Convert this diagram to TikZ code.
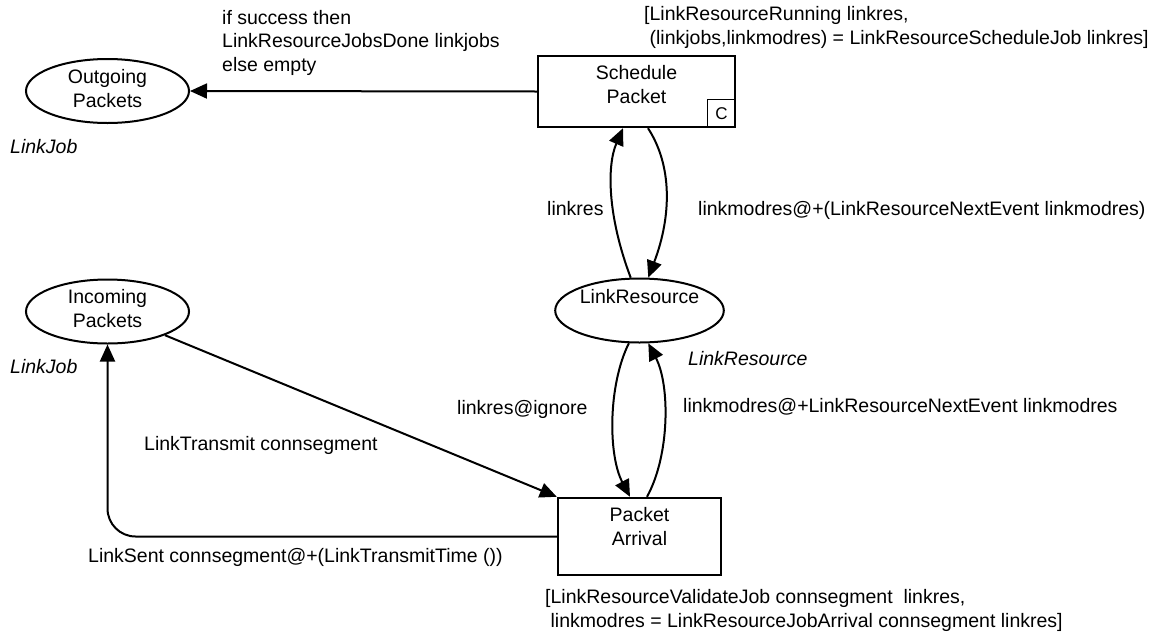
\documentclass[tikz,border=0pt]{standalone}
\usepackage{fontspec}
\setmainfont{Liberation Sans}
\usetikzlibrary{arrows.meta,shapes.geometric}

\tikzset{
  every node/.style={font=\fontsize{19.5}{23.3}\selectfont, inner sep=0pt},
  place/.style={ellipse, draw, line width=2pt, minimum width=163pt, minimum height=64pt,
                align=center},
  trans/.style={rectangle, draw, line width=2.4pt, align=center},
  two lines/.style={text height=37.5pt, text depth=#1},
  one line/.style={text height=14.2pt, text depth=#1},
  arc/.style={line width=2pt, -{Triangle[length=17pt,width=15pt]}},
  lbl/.style={anchor=base west, align=left},
  typ/.style={lbl, font=\fontsize{19.5}{23.3}\selectfont\itshape},
}

\begin{document}
\begin{tikzpicture}[x=1pt, y=-1pt]
\useasboundingbox (0,0) rectangle (1167,635);

% places
\node[place, two lines=5.5pt] (out) at (107.5,91) {Outgoing\\Packets};
\node[place, two lines=6.5pt] (inc) at (107.5,311.5) {Incoming\\Packets};
\node[place, one line=29.2pt] (lr)  at (639.5,310.5) {LinkResource};

% transitions
\node[trans, minimum width=197pt, minimum height=71pt, two lines=14.5pt] (sp) at (636.5,91.5) {Schedule\\Packet};
\node[draw, line width=1.6pt, minimum size=28pt, anchor=south east, font=\fontsize{17}{20}\selectfont]
  (cb) at (sp.south east) {C};
\node[trans, minimum width=163pt, minimum height=77pt, two lines=20.5pt] (pa) at (639.5,536.5) {Packet\\Arrival};

% colour sets
\node[typ] (t1) at (10,153) {LinkJob};
\node[typ] (t2) at (10,373) {LinkJob};
\node[typ] (t3) at (688,365) {LinkResource};

% guards (placed by the baseline of their last line)
\node[lbl] (g1) at (644,44) {[LinkResourceRunning linkres,\\\hspace*{5.4pt}(linkjobs,linkmodres) = LinkResourceScheduleJob linkres]};
\node[lbl] (g2) at (545,627) {[LinkResourceValidateJob connsegment\ \ linkres,\\\hspace*{5.4pt}linkmodres = LinkResourceJobArrival connsegment linkres]};

% arcs
\draw[arc] (sp.west) -- (out.east);
\draw[arc] (lr.105) .. controls (607,215) and (607,165) .. ([xshift=-13.5pt]sp.south);
\draw[arc] ([xshift=11.5pt]sp.south) .. controls (672,165) and (672,215) .. (lr.75);
\draw[arc] (lr.-108) .. controls (608,385) and (608,455) .. ([xshift=-9.5pt]pa.north);
\draw[arc] ([xshift=7.5pt]pa.north) .. controls (670,455) and (670,385) .. (lr.-75);
\draw[arc] (inc) -- (pa.north west);
\draw[arc, rounded corners=28pt] (pa.west) -| (inc.south);

% arc inscriptions
\node[lbl] (a1) at (222,71) {if success then\\LinkResourceJobsDone linkjobs\\else empty};
\node[lbl] (a2) at (547,215) {linkres};
\node[lbl] (a3) at (698,215) {linkmodres@+(LinkResourceNextEvent linkmodres)};
\node[lbl] (a4) at (457,414) {linkres@ignore};
\node[lbl] (a5) at (683,412) {linkmodres@+LinkResourceNextEvent linkmodres};
\node[lbl] (a6) at (144,450) {LinkTransmit connsegment};
\node[lbl] (a7) at (88,562) {LinkSent connsegment@+(LinkTransmitTime ())};
\end{tikzpicture}
\end{document}
